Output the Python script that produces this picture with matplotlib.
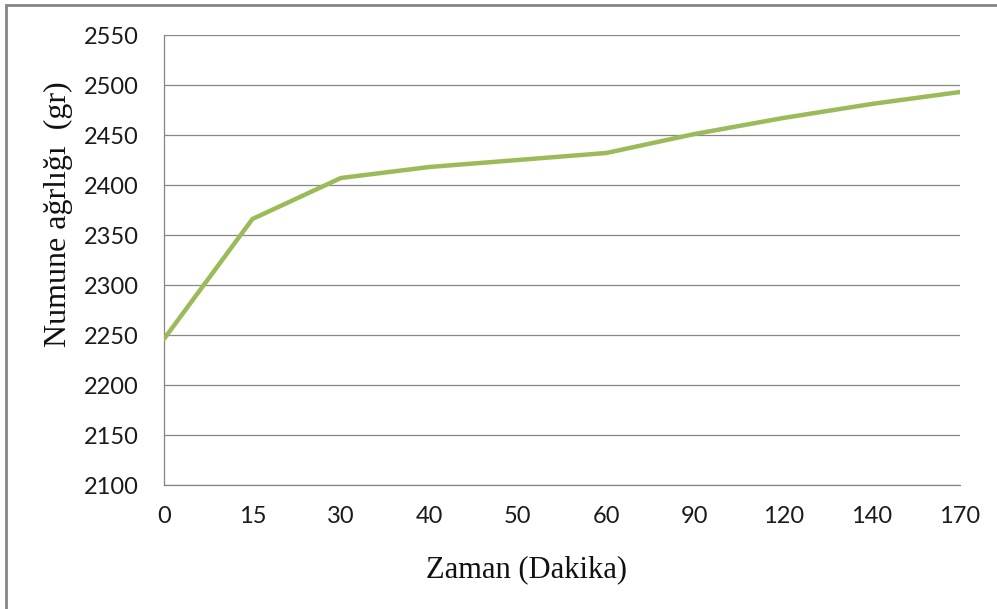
import matplotlib
matplotlib.use("Agg")
import matplotlib.pyplot as plt
from matplotlib.patches import Rectangle

# Data
timeLabels = ["0", "15", "30", "40", "50", "60", "90", "120", "140", "170"]
sampleWeight = [2246, 2366, 2407, 2418, 2425, 2432, 2451, 2467, 2481, 2493]
yTicks = list(range(2100, 2551, 50))

fig = plt.figure(figsize=(9.97, 6.09), dpi=100, facecolor='w')

# outer chart border (Excel-style)
fig.patches.append(Rectangle((6 / 997, -0.01), 1.1, 1 - 5 / 609 + 0.01,
                             transform=fig.transFigure, fill=False,
                             edgecolor='#858585', linewidth=2.0))

ax = fig.add_axes([164 / 997, 1 - 485 / 609, (960 - 164) / 997, (485 - 35) / 609])

xPos = list(range(len(timeLabels)))
ax.plot(xPos, sampleWeight, color='#9BBB59', linewidth=3.2,
        solid_capstyle='round', solid_joinstyle='round', zorder=3)

ax.set_xlim(0, len(timeLabels) - 1)
ax.set_ylim(2100, 2550)
ax.set_yticks(yTicks)
ax.set_xticks(xPos)
ax.set_xticklabels(timeLabels)

ax.grid(axis='y', color='#868686', linewidth=0.9)
ax.set_axisbelow(True)
for side in ['top', 'right']:
    ax.spines[side].set_visible(False)
ax.spines['bottom'].set_color('#868686')
ax.spines['bottom'].set_linewidth(0.9)
ax.spines['left'].set_color('#868686')
ax.spines['left'].set_linewidth(0.9)

ax.tick_params(length=0, pad=18, colors='#1a1a1a')
ax.tick_params(axis='x', pad=15)
for label in ax.get_xticklabels() + ax.get_yticklabels():
    label.set_family('Lato')
    label.set_fontsize(17)

fig.text(526 / 997, 1 - 570 / 609, 'Zaman (Dakika)', ha='center', va='center',
         family='Liberation Serif', fontsize=22, color='#111111')
fig.text(58 / 997, 1 - 214 / 609, 'Numune a\u011frl\u0131\u011f\u0131  (gr)', ha='center', va='center',
         rotation=90, family='Liberation Serif', fontsize=23, color='#111111')

plt.savefig('out.png', dpi=100, facecolor='w')
